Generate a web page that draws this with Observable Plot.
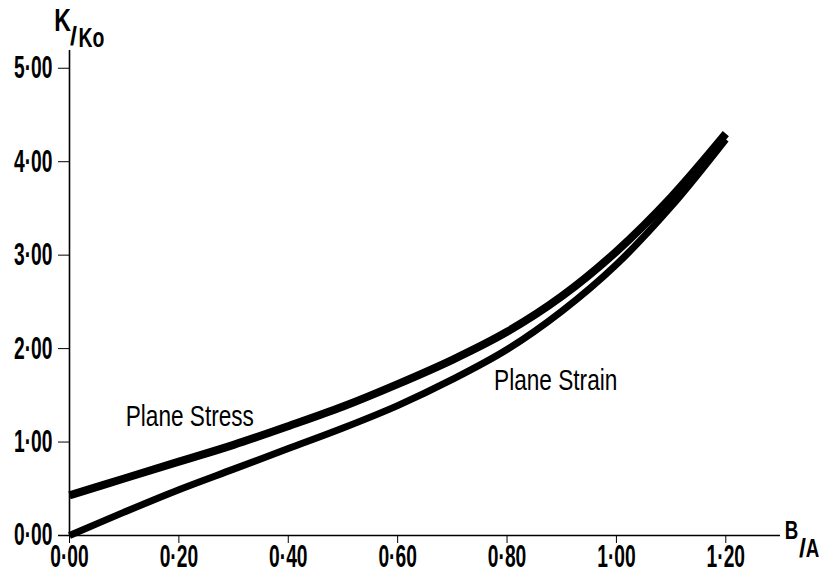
<!DOCTYPE html>
<html>
<head>
<meta charset="utf-8">
<script src="https://cdn.jsdelivr.net/npm/d3@7"></script>
<script src="https://cdn.jsdelivr.net/npm/@observablehq/plot@0.6"></script>
<style>
  html, body { margin: 0; padding: 0; background: #fff; }
  #chart svg { display: block; }
</style>
</head>
<body>
<div id="chart"></div>
<script>
// B/A ratio values
const ratio = [0, 0.1, 0.2, 0.3, 0.4, 0.5, 0.6, 0.7, 0.8, 0.9, 1.0, 1.1, 1.2];
// K/Ko for plane stress
const planeStress = [0.43, 0.61, 0.79, 0.97, 1.17, 1.38, 1.62, 1.88, 2.18, 2.56, 3.04, 3.62, 4.30];
// K/Ko for plane strain
const planeStrain = [0.00, 0.25, 0.49, 0.71, 0.93, 1.15, 1.39, 1.67, 1.99, 2.40, 2.90, 3.52, 4.24];
const xTicks = [0, 0.2, 0.4, 0.6, 0.8, 1.0, 1.2];
const yTicks = [0, 1, 2, 3, 4, 5];
const curveLabels = ["Plane Stress", "Plane Strain"];

const stressData = ratio.map((r, i) => ({r, k: planeStress[i]}));
const strainData = ratio.map((r, i) => ({r, k: planeStrain[i]}));
const fmt = d => d3.format(".2f")(d).replace(".", "\u00B7");
const FONT = "'Liberation Sans', Arial, sans-serif";
const mid = {textAnchor: "middle", lineAnchor: "middle", fill: "#000"};

const chart = Plot.plot({
  width: 819,
  height: 577,
  marginLeft: 69,
  marginRight: 39,
  marginTop: 50,
  marginBottom: 42,
  style: {fontFamily: FONT, fontSize: "29px", color: "#000", background: "#fff"},
  x: {domain: [0, 1.3]},
  y: {domain: [0, 5.19]},
  marks: [
    Plot.ruleY([0], {x1: -0.02, x2: 1.3, stroke: "#000", strokeWidth: 1.6}),
    Plot.ruleX([0], {y1: 0, y2: 5.19, stroke: "#000", strokeWidth: 1.6}),
    Plot.axisX({ticks: xTicks, tickSize: 8, tickPadding: 1, tickFormat: fmt, label: null, fontSize: 31, fontWeight: "bold"}),
    Plot.axisY({ticks: yTicks, tickSize: 11, tickPadding: 6, tickFormat: fmt, label: null, fontSize: 31, fontWeight: "bold"}),
    Plot.line(stressData, {x: "r", y: "k", curve: "catmull-rom", stroke: "#000", strokeWidth: 8, strokeLinecap: "butt"}),
    Plot.line(strainData, {x: "r", y: "k", curve: "catmull-rom", stroke: "#000", strokeWidth: 7, strokeLinecap: "butt"}),
    Plot.text([curveLabels[0]], {x: 0.22, y: 1.27, text: d => d, fontSize: 29, ...mid}),
    Plot.text([curveLabels[1]], {x: 0.889, y: 1.66, text: d => d, fontSize: 29, ...mid}),
    // y-axis label K/Ko
    Plot.text(["K"], {frameAnchor: "top-left", dx: -7, dy: -30, text: d => d, fontSize: 32, fontWeight: "bold", ...mid}),
    Plot.text(["/"], {frameAnchor: "top-left", dx: 4, dy: -14, text: d => d, fontSize: 25, fontWeight: "bold", ...mid}),
    Plot.text(["Ko"], {frameAnchor: "top-left", dx: 22, dy: -12, text: d => d, fontSize: 27, fontWeight: "bold", ...mid}),
    // x-axis label B/A
    Plot.text(["B"], {frameAnchor: "bottom-right", dx: 11, dy: -5, text: d => d, fontSize: 26, fontWeight: "bold", ...mid}),
    Plot.text(["/"], {frameAnchor: "bottom-right", dx: 22, dy: 13, text: d => d, fontSize: 25, fontWeight: "bold", ...mid}),
    Plot.text(["A"], {frameAnchor: "bottom-right", dx: 32, dy: 13, text: d => d, fontSize: 26, fontWeight: "bold", ...mid})
  ]
});

// Condense the lettering to resemble the narrow stencil face of the original
function squeeze(sel, s) {
  sel.each(function () {
    const t = d3.select(this);
    const x = +t.attr("x") || 0, y = +t.attr("y") || 0;
    const tr = t.attr("transform") || "";
    t.attr("transform", `${tr} translate(${x},${y}) scale(${s},1) translate(${-x},${-y})`);
  });
}
const svg = d3.select(chart);
squeeze(svg.selectAll('g[aria-label="x-axis tick label"] text, g[aria-label="y-axis tick label"] text'), 0.62);
svg.selectAll('g[aria-label="text"] text').each(function () {
  const content = this.textContent;
  const s = curveLabels.includes(content) ? 0.78 : content === "/" ? 1 : 0.72;
  squeeze(d3.select(this), s);
});
document.getElementById("chart").appendChild(chart);
</script>
</body>
</html>
